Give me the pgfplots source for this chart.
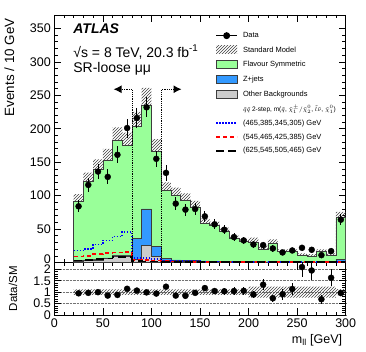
\documentclass[border=0pt]{standalone}
\usepackage{fontspec}
\setmainfont{Liberation Sans}
\usepackage{pgfplots}
\usepackage{pgfplotstable}
\pgfplotsset{compat=1.18}
\usepgfplotslibrary{fillbetween}
\usetikzlibrary{patterns,arrows.meta}

\definecolor{fsgreen}{RGB}{153,255,153}
\definecolor{zblue}{RGB}{51,153,255}
\definecolor{othgrey}{RGB}{204,204,204}
\definecolor{edge}{RGB}{60,60,60}

% bins: left edge, SM total, Z+other, other, SM band, ratio band, signals
\pgfplotstableread{
x   tot  zo   oth  up    lo    rup   rlo   sa   sb   sc
20  92   3    2    102.1 81.9  1.12  0.88  18   9    3
30  121  4    3    134.3 107.7 1.12  0.88  20   10   4
40  139  5    4    154.3 123.7 1.12  0.88  27   12.5 5
50  153  7    6    169.8 136.2 1.12  0.88  33   14   6
60  182  11   10   202.0 162.0 1.12  0.88  39   15   8
70  175  11   10   194.3 155.8 1.12  0.88  46   16   8
80  203  36   5    225.3 180.7 1.12  0.88  7    4    2
90  235  80   25   260.9 209.2 1.12  0.88  7    4    1.5
100 166  24   9    184.3 147.7 1.12  0.88  5    3    1.5
110 108  6    3    119.9 96.1  1.12  0.88  3    2    1
120 101  4    2    112.1 89.9  1.12  0.88  2.5  1.5  1
130 93   3.5  2    103.2 82.8  1.12  0.88  2    1.5  0.5
140 83   3    2    92.1  73.9  1.12  0.88  2    1    0.5
150 59   2.5  1.5  65.5  52.5  1.12  0.88  1.5  1    0.5
160 55   2    1.5  61.1  49.0  1.12  0.88  1.5  1    0.5
170 47   1.5  1    52.2  41.8  1.12  0.88  1.5  0.5  0.5
180 36   1.5  1    40.0  32.0  1.12  0.88  1    0.5  0.5
190 31   1.5  1    34.4  27.6  1.12  0.88  1    0.5  0.5
200 30   1.5  1    37.2  22.8  1.24  0.76  1    0.5  0.5
210 20   1    0.5  24.8  15.2  1.24  0.76  1    0.5  0.5
220 28   1.5  1    34.7  21.3  1.24  0.76  1    0.5  0.5
230 16   1    0.5  19.8  12.2  1.24  0.76  0.5  0.5  0.5
240 16   1    0.5  19.8  12.2  1.24  0.76  0.5  0.5  0.5
250 11   1    0.5  13.6  8.4   1.24  0.76  0.5  0.5  0.5
260 10   1    0.5  12.4  7.6   1.24  0.76  0.5  0.5  0.5
270 16   1    0.5  19.8  12.2  1.24  0.76  0.5  0.5  0.5
280 11   1    0.5  13.6  8.4   1.24  0.76  0.5  0.5  0.5
290 67   5    1    75.7  58.3  1.13  0.87  1    1    0.5
300 67   5    1    75.7  58.3  1.13  0.87  1    1    0.5
}\hist

\pgfplotstableread{
x   d    e     r     re
25  84   9.2   0.95  0.100
35  116  10.8  0.97  0.089
45  136  11.7  1.00  0.084
55  128  11.3  0.85  0.074
65  161  12.7  0.88  0.070
75  201  14.2  1.15  0.081
85  216  14.7  1.07  0.072
95  232  15.2  0.99  0.065
105 155  12.4  0.94  0.075
115 134  11.6  1.24  0.107
125 88   9.4   0.85  0.093
135 79   8.9   0.84  0.096
145 80   8.9   0.97  0.108
155 69   8.3   1.18  0.141
165 57   7.5   1.05  0.137
175 49   7.0   1.04  0.149
185 38   6.2   1.05  0.171
195 33   5.7   1.06  0.185
205 27   5.2   0.90  0.173
215 26   5.1   1.33  0.255
225 21   4.6   0.73  0.164
235 15   3.9   0.91  0.242
245 18   4.2   1.14  0.265
255 22   4.7   2.10  0.426
265 19   4.4   1.95  0.436
275 11   3.3   0.69  0.207
285 17   4.1   1.63  0.375
295 64   8.0   0.96  0.119
}\datatab

\pgfplotsset{
  atlas/.style={
    scale only axis, width=291.4pt,
    xmin=0, xmax=300,
    axis line style={line width=0.8pt},
    every tick/.style={black, line width=0.6pt},
    major tick length=7pt, minor tick length=3.5pt,
    xtick pos=both, ytick pos=both,
    xticklabel pos=lower, yticklabel pos=left,
    xtick={0,50,...,300}, minor x tick num=4,
    /pgf/number format/assume math mode=true,
    every tick label/.append style={font=\fontsize{12.5}{14}\selectfont},
  },
  boxlegend/.style={legend image code/.code={\draw[##1] (0pt,-4pt) rectangle (21pt,4pt);}},
  hatchlegend/.style={legend image code/.code={\path[##1] (0pt,-4pt) rectangle (21pt,4pt);}},
  datalegend/.style={legend image code/.code={\draw[mark repeat=2,mark phase=2,##1] plot coordinates {(0pt,0pt) (10.5pt,0pt) (21pt,0pt)};}},
}

\begin{document}
\begin{tikzpicture}
\begin{axis}[
  atlas, name=main,
  height=247.5pt,
  ymin=0, ymax=370,
  ytick={0,50,...,350}, minor y tick num=4,
  yticklabel={\ifdim\tick pt<1pt \raisebox{6pt}{0}\else\pgfmathprintnumber{\tick}\fi},
  xticklabels={},
  ylabel={Events / 10 GeV},
  every axis y label/.style={at={(rel axis cs:-0.125,1)}, rotate=90, anchor=south east,
    font=\fontsize{13.4}{15}\selectfont},
  legend style={at={(axis cs:162.4,348)}, anchor=north west, draw=none, fill=none,
    font=\fontsize{7.5}{9}\selectfont, row sep=6.4pt,
    nodes={inner sep=0pt, text height=6pt, text depth=1.5pt},
    /tikz/every odd column/.append style={column sep=5pt}},
  legend cell align=left,
  legend image code/.code={\draw[#1] (0pt,0pt) -- (21pt,0pt);},
]
  % stacked backgrounds
  \addplot[const plot, fill=fsgreen, draw=edge, line width=0.6pt, forget plot] table[x=x, y=tot]{\hist} \closedcycle;
  \addplot[const plot, fill=zblue, draw=edge, line width=0.6pt, forget plot] table[x=x, y=zo]{\hist} \closedcycle;
  \addplot[const plot, fill=othgrey, draw=edge, line width=0.6pt, forget plot] table[x=x, y=oth]{\hist} \closedcycle;

  % SM uncertainty
  \addplot[const plot, draw=none, name path=up, forget plot] table[x=x, y=up]{\hist};
  \addplot[const plot, draw=none, name path=lo, forget plot] table[x=x, y=lo]{\hist};
  \addplot[pattern=north east lines, pattern color=black!75, draw=none, forget plot] fill between[of=up and lo];

  % signals
  \addplot[const plot, blue, line width=1.8pt, dash pattern=on 1.5pt off 1.5pt, forget plot] table[x=x, y=sa]{\hist};
  \addplot[const plot, red, line width=1.8pt, dash pattern=on 4pt off 3pt, forget plot] table[x=x, y=sb]{\hist};
  \addplot[const plot, black, line width=1.8pt, dash pattern=on 8pt off 4pt, forget plot] table[x=x, y=sc]{\hist};

  % selection arrows
  \draw[densely dotted, line width=1.2pt, -{Latex[length=8pt,width=8pt]}]
    (axis cs:80.5,0) -- (axis cs:80.5,259) -- (axis cs:61,259);
  \draw[densely dotted, line width=1.2pt, -{Latex[length=8pt,width=8pt]}]
    (axis cs:110.5,0) -- (axis cs:110.5,259) -- (axis cs:131,259);

  % data
  \addplot[only marks, mark=*, mark size=3pt, black, forget plot,
    error bars/.cd, y dir=both, y explicit, error mark=none,
    error bar style={line width=0.9pt}]
    table[x=x, y=d, y error=e]{\datatab};

  % legend
  \addlegendimage{datalegend, black, mark=*, mark size=3pt, line width=0.9pt}
  \addlegendentry{Data}
  \addlegendimage{hatchlegend, draw=none, pattern=north east lines, pattern color=black!75}
  \addlegendentry{Standard Model}
  \addlegendimage{boxlegend, fill=fsgreen, draw=edge, line width=0.6pt}
  \addlegendentry{Flavour Symmetric}
  \addlegendimage{boxlegend, fill=zblue, draw=edge, line width=0.6pt}
  \addlegendentry{Z+jets}
  \addlegendimage{boxlegend, fill=othgrey, draw=edge, line width=0.6pt}
  \addlegendentry{Other Backgrounds}
  \addlegendimage{empty legend}
  \addlegendentry{\fontsize{6.5}{8}\selectfont $\tilde{q}\tilde{q}$ 2-step, m($\tilde{q}$, $\tilde{\chi}^{\pm}_{1}/\tilde{\chi}^{0}_{2}$, $\tilde{l}\tilde{\nu}$, $\tilde{\chi}^{0}_{1}$)}
  \addlegendimage{blue, line width=1.8pt, dash pattern=on 1.5pt off 1.5pt}
  \addlegendentry{(465,385,345,305) GeV}
  \addlegendimage{red, line width=1.8pt, dash pattern=on 4pt off 3pt}
  \addlegendentry{(545,465,425,385) GeV}
  \addlegendimage{black, line width=1.8pt, dash pattern=on 8pt off 4pt}
  \addlegendentry{(625,545,505,465) GeV}

  % labels
  \node[anchor=base west, font=\fontsize{14}{16}\selectfont\bfseries\itshape] at (axis cs:16,342.6) {ATLAS};
  \node[anchor=base west, font=\fontsize{14}{16}\selectfont] at (axis cs:16,307) {√s = 8 TeV, 20.3 fb\textsuperscript{-1}};
  \node[anchor=base west, font=\fontsize{14}{16}\selectfont] at (axis cs:16,284.7) {SR-loose μμ};
\end{axis}

\begin{axis}[
  atlas, name=ratio,
  at={(main.south west)}, anchor=north west,
  height=52.5pt,
  ymin=0, ymax=2.3,
  ytick={0,0.5,1,1.5,2}, yticklabels={0,0.5,1,1.5,2},
  minor y tick num=4,
  ymajorgrids, grid style={densely dotted, black!55, line width=0.6pt},
  xticklabels={0,50,100,150,200,250,300},
  xlabel={m\textsubscript{ll} [GeV]},
  every axis x label/.style={at={(rel axis cs:1,0)}, anchor=north east, yshift=-16pt,
    font=\fontsize{12.5}{14}\selectfont},
  ylabel={Data/SM},
  every axis y label/.style={at={(rel axis cs:-0.115,0.5)}, rotate=90, anchor=south,
    font=\fontsize{11.5}{13}\selectfont},
]
  \addplot[const plot, draw=none, name path=rup] table[x=x, y=rup]{\hist};
  \addplot[const plot, draw=none, name path=rlo] table[x=x, y=rlo]{\hist};
  \addplot[pattern=north east lines, pattern color=black!75, draw=none] fill between[of=rup and rlo];

  \addplot[only marks, mark=*, mark size=3pt, black,
    error bars/.cd, y dir=both, y explicit, error mark=none,
    error bar style={line width=0.9pt}]
    table[x=x, y=r, y error=re]{\datatab};
\end{axis}

\path (-54.3pt,-88.5pt) rectangle (311.7pt,262.5pt);
\end{tikzpicture}
\end{document}
